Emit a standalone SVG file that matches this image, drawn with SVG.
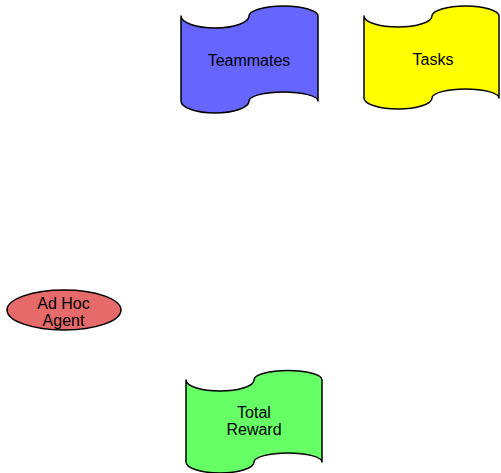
<svg xmlns="http://www.w3.org/2000/svg" width="501" height="473" viewBox="0 0 501 473">
<style>
.shape{stroke:#000;stroke-width:1.5;stroke-linejoin:round}
.lbl{font-family:"Liberation Sans",Arial,sans-serif;font-size:16px;fill:#000;text-anchor:middle}
</style>
<rect width="501" height="473" fill="#fff"/>
<g id="connectors"></g>
<g id="teammates">
<path class="shape" fill="#6666ff" d="M181,16 A34,12 0 0 0 249,16 A34.5,10 0 0 1 318,16 L318,101 A34.5,9 0 0 0 249,101 A34,12 0 0 1 181,101 Z"/>
<text class="lbl" x="249" y="65.5">Teammates</text>
</g>
<g id="tasks">
<path class="shape" fill="#ffff00" d="M364,16 A34,11 0 0 0 432,16 A33.5,10 0 0 1 499,16 L499,98 A33.5,9 0 0 0 432,98 A34,11 0 0 1 364,98 Z"/>
<text class="lbl" x="433" y="65">Tasks</text>
</g>
<g id="adhoc">
<ellipse class="shape" fill="#e66a6a" cx="64" cy="310" rx="57" ry="20"/>
<text class="lbl" x="63.5" y="308.5">Ad Hoc</text>
<text class="lbl" x="63.5" y="325.5">Agent</text>
</g>
<g id="totalreward">
<path class="shape" fill="#66ff66" d="M186,380 A34,11 0 0 0 254,380 A34,9.5 0 0 1 322,380 L322,462 A34,9 0 0 0 254,462 A34,11 0 0 1 186,462 Z"/>
<text class="lbl" x="254" y="418">Total</text>
<text class="lbl" x="254" y="435">Reward</text>
</g>
</svg>
